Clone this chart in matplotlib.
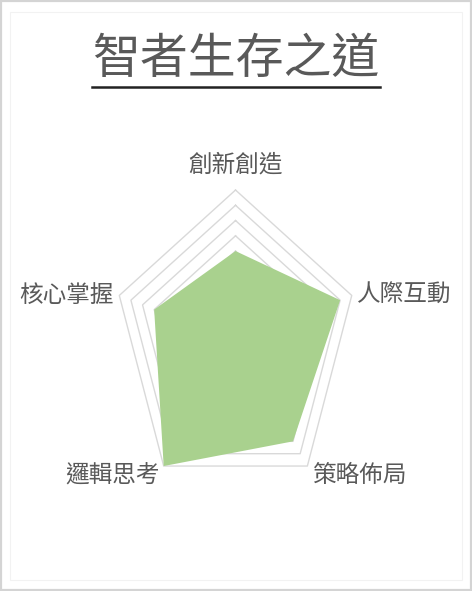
import numpy as np
import matplotlib.pyplot as plt
from matplotlib.patches import Rectangle

plt.rcParams['font.family'] = ['Noto Sans CJK TC', 'DejaVu Sans']

# data (scale 0-10)
categories = ['創新創造', '人際互動', '策略佈局', '邏輯思考', '核心掌握']
scores = [6, 9, 8, 10, 7]
ring_levels = [1, 2, 3, 4, 5, 6, 7, 8, 9, 10]
title = '智者生存之道'

text_color = '#595959'
fill_color = '#a9d18e'
grid_color = '#d9d9d9'

n = len(categories)
theta = np.arange(n) * 2 * np.pi / n  # clockwise from top


def to_xy(r):
    r = np.asarray(r, dtype=float)
    return r * np.sin(theta), r * np.cos(theta)


fig = plt.figure(figsize=(4.72, 5.91), dpi=100)
fig.patch.set_facecolor('white')

# outer frame + faint inner frame
fig.patches.append(Rectangle((0.002, 0.002), 0.996, 0.996, transform=fig.transFigure,
                             fill=False, edgecolor='#d4d4d4', linewidth=1.6))
fig.patches.append(Rectangle((0.022, 0.018), 0.956, 0.962, transform=fig.transFigure,
                             fill=False, edgecolor='#f2f2f2', linewidth=0.8))

ax = fig.add_axes([0.1883, 0.1105, 0.6214, 0.6196])
ax.set_xlim(-12, 12)
ax.set_ylim(-12, 12)
ax.axis('off')

# pentagon gridlines
for lvl in ring_levels:
    gx, gy = to_xy([lvl] * n)
    ax.plot(np.append(gx, gx[0]), np.append(gy, gy[0]), color=grid_color,
            linewidth=1.0, zorder=1)

# the data polygon
dx, dy = to_xy(scores)
ax.fill(dx, dy, color=fill_color, zorder=2, linewidth=0)

# category labels around the outer ring
vx, vy = to_xy([ring_levels[-1]] * n)
label_style = [
    ((0, 10), 'center', 'bottom'),
    ((4, 0), 'left', 'center'),
    ((4, -7), 'left', 'center'),
    ((-3, -7), 'right', 'center'),
    ((-4, -1), 'right', 'center'),
]
for i, name in enumerate(categories):
    off, ha, va = label_style[i]
    ax.annotate(name, (vx[i], vy[i]), xytext=off, textcoords='offset points',
                ha=ha, va=va, fontsize=17, color=text_color, fontweight='light')

# underlined title
t = fig.text(0.5, 0.900, title, ha='center', va='center', fontsize=34.5,
             color=text_color)
fig.canvas.draw()
bb = t.get_window_extent().transformed(fig.transFigure.inverted())
fig.add_artist(plt.Line2D([bb.x0, bb.x1], [0.852, 0.852], transform=fig.transFigure,
                          color='#222222', linewidth=1.8))

fig.savefig('out.png', dpi=100, facecolor='white')
